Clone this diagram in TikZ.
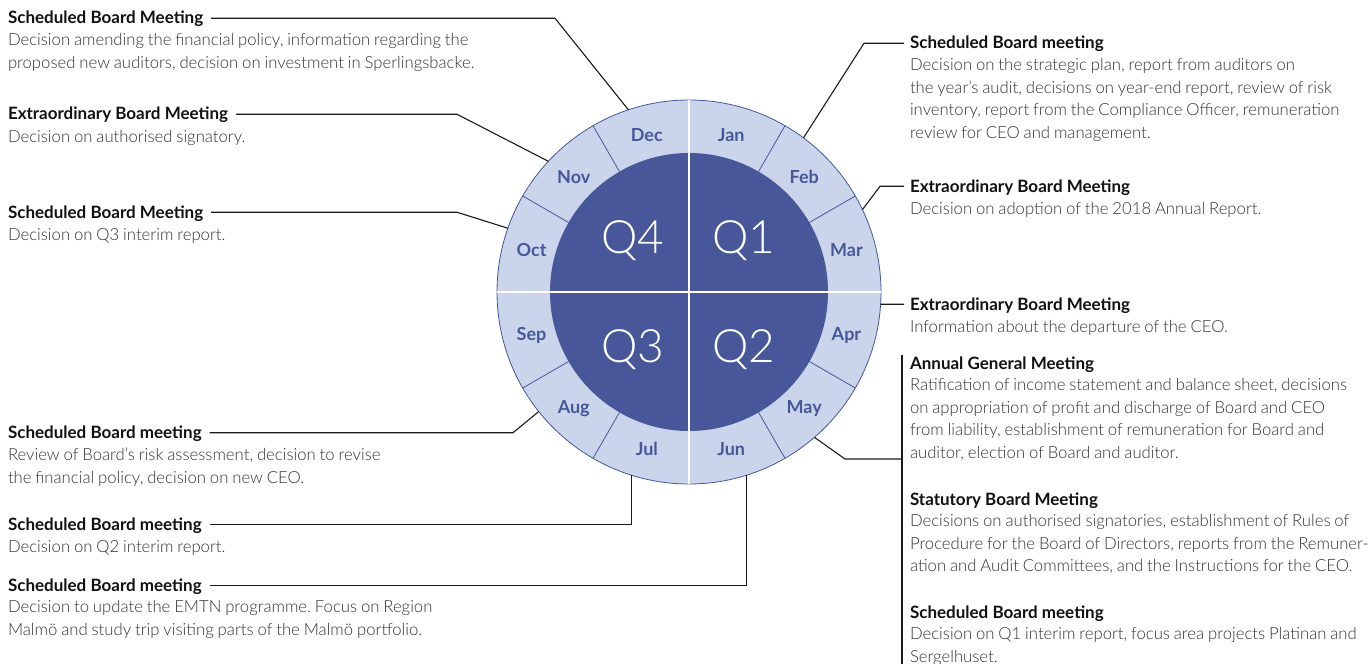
\documentclass[tikz,border=0pt]{standalone}
\usepackage{fontspec}
\setmainfont{Lato}
\IfFontExistsTF{Lato Light}
  {\newfontfamily\lightface{Lato Light}[WordSpace=0.85]}
  {\newfontfamily\lightface{Lato}[WordSpace=0.85]}
\usetikzlibrary{positioning,calc}
\definecolor{ringLight}{HTML}{CAD4EA}
\definecolor{quarterFill}{HTML}{47579A}
\definecolor{textHead}{HTML}{111111}
\definecolor{textBody}{HTML}{333333}
\definecolor{leadLine}{HTML}{1A1A1A}
\frenchspacing

\begin{document}
\begin{tikzpicture}[x=1bp,y=1bp,
    every node/.style={inner sep=0pt,outer sep=0pt},
    head/.style={anchor=base west,font=\fontsize{17bp}{20bp}\selectfont\bfseries,
                 text=textHead,text height=11.5bp,text depth=0pt},
    body/.style={align=left,font=\lightface\fontsize{16.7bp}{22.6bp}\selectfont,
                 text=textBody,execute at begin node={\rule{0pt}{13bp}}},
    lead/.style={draw=leadLine,line width=1.1bp},
    month/.style={font=\fontsize{18bp}{20bp}\selectfont\bfseries,text=quarterFill,
                  text height=13bp,text depth=0pt},
    quarter/.style={font=\lightface\fontsize{46bp}{50bp}\selectfont,text=white,
                    text height=33bp,text depth=0pt}]
  \useasboundingbox (0,0) rectangle (1369,-664);

  % year wheel
  \begin{scope}[shift={(689,-292)}]
    \fill[ringLight] (0,0) circle (192);
    \fill[quarterFill] (0,0) circle (139);
    \foreach \a in {30,60,120,150,210,240,300,330}
      \draw[quarterFill,line width=0.8bp] (\a:139) -- (\a:192);
    \draw[quarterFill,line width=0.8bp] (0,0) circle (192);
    \draw[white,line width=2.5bp] (-192,0) -- (192,0) (0,-192) -- (0,192);
    \foreach \m [count=\i] in {Jan,Feb,Mar,Apr,May,Jun,Jul,Aug,Sep,Oct,Nov,Dec}
      \node[month] (m\m) at ({105-30*\i}:163) {\m};
    \node[quarter] (q1) at (55,55) {Q1};
    \node[quarter] (q2) at (55,-54) {Q2};
    \node[quarter] (q3) at (-56,-54) {Q3};
    \node[quarter] (q4) at (-56,55) {Q4};
    % where the leaders meet the rim
    \coordinate (pJan) at (53.4:192);
    \coordinate (pMar) at (25.4:192);
    \coordinate (pApr) at (-3.66:192);
    \coordinate (pMay) at (-49.2:192);
    \coordinate (pJun) at (-72.7:192);
    \coordinate (pJul) at (252.7:192);
    \coordinate (pAug) at (218.5:192);
    \coordinate (pOct) at (160.6:192);
    \coordinate (pNov) at (137.1:192);
    \coordinate (pDec) at (108.4:192);
  \end{scope}

  % left column
  \node[head] (hDec) at (8,-24) {Scheduled Board Meeting};
  \node[body,below right=9.5bp and 0pt of hDec.base west] (bDec)
    {Decision amending the financial policy, information regarding the\\
     proposed new auditors, decision on investment in Sperlingsbacke.};
  \node[head] (hNov) at (8,-120) {Extraordinary Board Meeting};
  \node[body,below right=9.5bp and 0pt of hNov.base west] (bNov)
    {Decision on authorised signatory.};
  \node[head] (hOct) at (8,-218) {Scheduled Board Meeting};
  \node[body,below right=9.5bp and 0pt of hOct.base west] (bOct)
    {Decision on Q3 interim report.};
  \node[head] (hAug) at (8,-438.5) {Scheduled Board meeting};
  \node[body,below right=9.5bp and 0pt of hAug.base west] (bAug)
    {Review of Board’s risk assessment, decision to revise\\
     the financial policy, decision on new CEO.};
  \node[head] (hJul) at (8,-530) {Scheduled Board meeting};
  \node[body,below right=9.5bp and 0pt of hJul.base west] (bJul)
    {Decision on Q2 interim report.};
  \node[head] (hJun) at (8,-591) {Scheduled Board meeting};
  \node[body,below right=9.5bp and 0pt of hJun.base west] (bJun)
    {Decision to update the EMTN programme. Focus on Region\\
     Malmö and study trip visiting parts of the Malmö portfolio.};

  % right column
  \node[head] (hJan) at (910,-49) {Scheduled Board meeting};
  \node[body,below right=9.5bp and 0pt of hJan.base west] (bJan)
    {Decision on the strategic plan, report from auditors on\\
     the year’s audit, decisions on year-end report, review of risk\\
     inventory, report from the Compliance Officer, remuneration\\
     review for CEO and management.};
  \node[head] (hMar) at (910,-192) {Extraordinary Board Meeting};
  \node[body,below right=9.5bp and 0pt of hMar.base west] (bMar)
    {Decision on adoption of the 2018 Annual Report.};
  \node[head] (hApr) at (910,-310) {Extraordinary Board Meeting};
  \node[body,below right=9.5bp and 0pt of hApr.base west] (bApr)
    {Information about the departure of the CEO.};
  \node[head] (hAgm) at (910,-369) {Annual General Meeting};
  \node[body,below right=9.5bp and 0pt of hAgm.base west] (bAgm)
    {Ratification of income statement and balance sheet, decisions\\
     on appropriation of profit and discharge of Board and CEO\\
     from liability, establishment of remuneration for Board and\\
     auditor, election of Board and auditor.};
  \node[head] (hStat) at (910,-505) {Statutory Board Meeting};
  \node[body,below right=9.5bp and 0pt of hStat.base west] (bStat)
    {Decisions on authorised signatories, establishment of Rules of\\
     Procedure for the Board of Directors, reports from the Remuner-\\
     ation and Audit Committees, and the Instructions for the CEO.};
  \node[head] (hMay) at (910,-618) {Scheduled Board meeting};
  \node[body,below right=9.5bp and 0pt of hMay.base west] (bMay)
    {Decision on Q1 interim report, focus area projects Platinan and\\
     Sergelhuset.};

  % leaders
  \draw[lead] ([xshift=8bp]hDec.east) -- (555,-18.25) -- (pDec);
  \draw[lead] ([xshift=8bp]hNov.east) -- (457,-114.25) -- (pNov);
  \draw[lead] ([xshift=8bp]hOct.east) -- (457,-212.25) -- (pOct);
  \draw[lead] ([xshift=8bp]hAug.east) -- (513,-432.75) -- (pAug);
  \draw[lead] ([xshift=8bp]hJul.east) -| (pJul);
  \draw[lead] ([xshift=8bp]hJun.east) -| (pJun);
  \draw[lead] (pJan) -- (864,-43.25) -- ([xshift=-6bp]hJan.west);
  \draw[lead] (pMar) -- (880,-186.25) -- ([xshift=-6bp]hMar.west);
  \draw[lead] (pApr) -- ([xshift=-6bp]hApr.west);
  \coordinate (brTop) at (902,-355);
  \coordinate (brBot) at (902,-664);
  \draw[lead] (pMay) -- (845,-459) -- (brTop |- 0,-459);
  \draw[lead] (brTop) -- (brBot);
\end{tikzpicture}
\end{document}
